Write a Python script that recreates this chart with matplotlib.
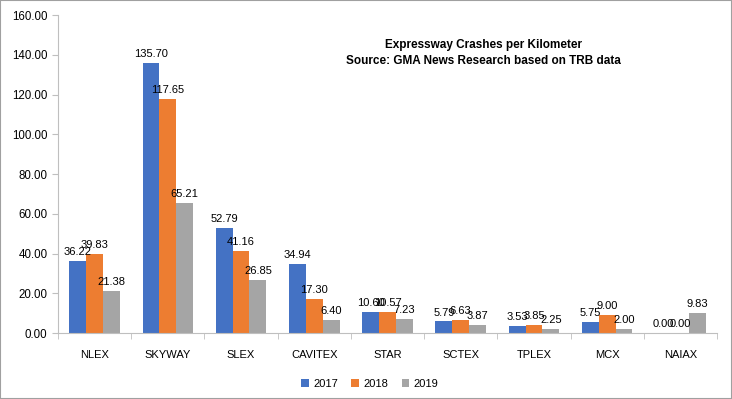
import numpy as np
import matplotlib.pyplot as plt

roads = ["NLEX", "SKYWAY", "SLEX", "CAVITEX", "STAR", "SCTEX", "TPLEX", "MCX", "NAIAX"]
y2017 = [36.22, 135.70, 52.79, 34.94, 10.60, 5.79, 3.53, 5.75, 0.00]
y2018 = [39.83, 117.65, 41.16, 17.30, 10.57, 6.63, 3.85, 9.00, 0.00]
y2019 = [21.38, 65.21, 26.85, 6.40, 7.23, 3.87, 2.25, 2.00, 9.83]
years = ["2017", "2018", "2019"]
colors = ["#4472C4", "#ED7D31", "#A5A5A5"]

plt.rcParams["font.family"] = ["Liberation Sans", "DejaVu Sans"]

fig = plt.figure(figsize=(7.32, 3.99), dpi=100)
ax = fig.add_axes([0.0792, 0.1654, 0.9003, 0.797])

x = np.arange(len(roads))
w = 0.23
for i, (vals, c, yr) in enumerate(zip([y2017, y2018, y2019], colors, years)):
    bars = ax.bar(x + (i - 1) * w, vals, w, color=c, label=yr)
    for b, v in zip(bars, vals):
        ax.text(b.get_x() + b.get_width() / 2, v + 2, f"{v:.2f}",
                ha="center", va="bottom", fontsize=8)

ax.set_xlim(-0.5, len(roads) - 0.5)
ax.set_ylim(0, 160)
ax.set_yticks(np.arange(0, 161, 20))
ax.set_yticklabels([f"{t:.2f}" for t in np.arange(0, 161, 20)], fontsize=8.3)
ax.set_xticks(x)
ax.set_xticklabels(roads, fontsize=8)
ax.set_xticks(np.arange(-0.5, len(roads)), minor=True)
ax.tick_params(axis="x", which="major", length=0, pad=12)
ax.tick_params(axis="x", which="minor", length=4, color="#BFBFBF")
ax.tick_params(axis="y", length=4, color="#BFBFBF")
for s in ["top", "right"]:
    ax.spines[s].set_visible(False)
ax.spines["left"].set_color("#BFBFBF")
ax.spines["bottom"].set_color("#BFBFBF")

ax.text(0.645, 0.88, "Expressway Crashes per Kilometer\nSource: GMA News Research based on TRB data",
        transform=ax.transAxes, ha="center", va="center", fontsize=8.5,
        fontweight="bold", linespacing=1.5)

fig.legend(loc="lower center", bbox_to_anchor=(0.505, 0.0), ncol=3, frameon=False,
           fontsize=8, handlelength=0.7, handleheight=0.7, columnspacing=1.2,
           handletextpad=0.4)

fig.patches.append(plt.Rectangle((0, 0), 1, 1, transform=fig.transFigure,
                                 fill=False, edgecolor="#A0A0A0", linewidth=1.5))

fig.savefig("out.png", dpi=100)
